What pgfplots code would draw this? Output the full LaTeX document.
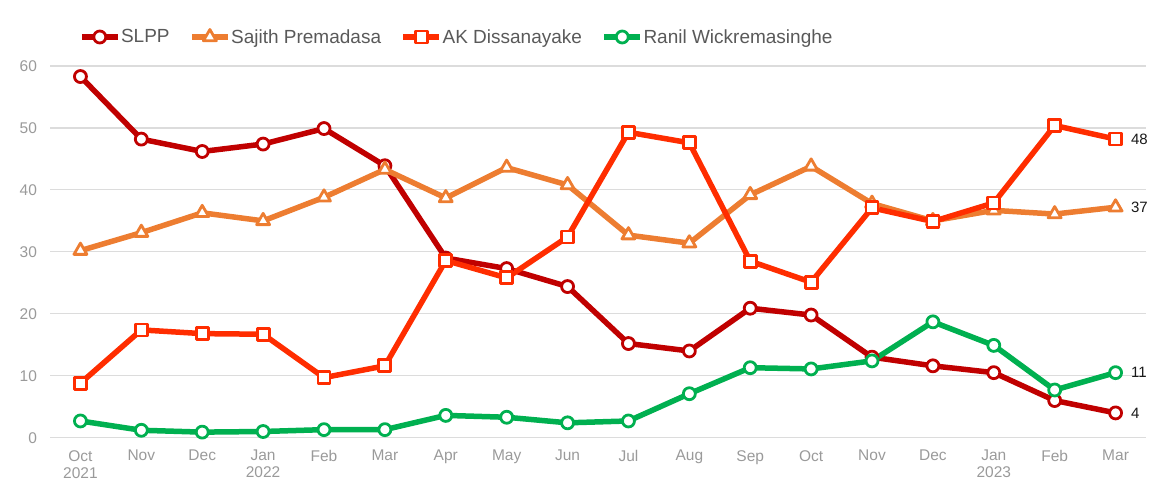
\documentclass[border=0pt]{standalone}
\usepackage{pgfplots}
\pgfplotsset{compat=1.18}
\usepackage{fontspec}
\setmainfont{Liberation Sans}
\definecolor{slpp}{HTML}{C00000}
\definecolor{sajith}{HTML}{ED7D31}
\definecolor{akd}{HTML}{FF2D00}
\definecolor{ranil}{HTML}{00B050}
\definecolor{tickc}{HTML}{9A9A9A}
\definecolor{gridc}{HTML}{DCDCDC}
\definecolor{legtext}{HTML}{595959}
\begin{document}
\begin{tikzpicture}
\path (0pt,0pt) rectangle (1155pt,489pt);
\begin{axis}[
  at={(50pt,51.3pt)}, anchor=south west,
  scale only axis, width=1096pt, height=371.7pt,
  xmin=-0.5, xmax=17.5, ymin=0, ymax=60,
  axis line style={draw=none},
  major tick length=0pt,
  ytick={0,10,...,60},
  ymajorgrids, grid style={gridc, line width=1.2pt},
  xtick={0,...,17},
  xticklabels={{Oct\\2021},Nov,Dec,{Jan\\2022},Feb,Mar,Apr,May,Jun,Jul,Aug,Sep,Oct,Nov,Dec,{Jan\\2023},Feb,Mar},
  xticklabel style={align=center, text=tickc, font=\fontsize{15.5}{17}\selectfont, yshift=-9pt},
  yticklabel style={text=tickc, font=\fontsize{15.5}{17}\selectfont, xshift=-9.5pt},
  /pgf/number format/assume math mode=true,
  clip=false,
  legend columns=4,
  legend style={at={(0.0265,1.078)}, anchor=west, draw=none, fill=none,
    inner sep=0pt, outer sep=0pt, font=\fontsize{19}{21}\selectfont, text=legtext,
    nodes={inner sep=0.5pt},
    /tikz/every even column/.append style={column sep=19pt}},
  legend cell align=left,
  legend image code/.code={\draw[mark repeat=2,mark phase=2,#1] plot coordinates {(0pt,0pt) (18pt,0pt) (36pt,0pt)};},
  every axis plot/.append style={line width=5.5pt, line join=round},
]
\addplot[slpp, mark=*, mark size=6pt, mark options={fill=white, line width=2.8pt}] coordinates {
(0,58.3)(1,48.2)(2,46.2)(3,47.4)(4,49.9)(5,43.9)(6,29.0)(7,27.3)(8,24.4)(9,15.2)(10,14.0)(11,20.9)(12,19.8)(13,13.0)(14,11.6)(15,10.5)(16,6.0)(17,4.0)};
\addlegendentry{SLPP}
\addplot[sajith, mark=triangle*, mark size=7.5pt, mark options={fill=white, line width=2.8pt}] coordinates {
(0,30.2)(1,33.1)(2,36.3)(3,35.0)(4,38.8)(5,43.3)(6,38.7)(7,43.6)(8,40.8)(9,32.7)(10,31.4)(11,39.2)(12,43.8)(13,37.8)(14,35.0)(15,36.7)(16,36.1)(17,37.2)};
\addlegendentry{Sajith Premadasa}
\addplot[akd, mark=square*, mark size=6pt, mark options={fill=white, line width=2.8pt}] coordinates {
(0,8.8)(1,17.4)(2,16.8)(3,16.7)(4,9.7)(5,11.6)(6,28.6)(7,25.8)(8,32.4)(9,49.3)(10,47.6)(11,28.5)(12,25.1)(13,37.1)(14,34.9)(15,37.9)(16,50.4)(17,48.2)};
\addlegendentry{AK Dissanayake}
\addplot[ranil, mark=*, mark size=6pt, mark options={fill=white, line width=2.8pt}] coordinates {
(0,2.7)(1,1.2)(2,0.9)(3,1.0)(4,1.3)(5,1.3)(6,3.6)(7,3.3)(8,2.4)(9,2.7)(10,7.1)(11,11.3)(12,11.1)(13,12.4)(14,18.7)(15,14.9)(16,7.7)(17,10.5)};
\addlegendentry{Ranil Wickremasinghe}
\begin{scope}[every node/.style={anchor=west, xshift=12pt, font=\fontsize{15}{16}\selectfont, text=black!90}]
\node at (axis cs:17,48.2) {48};
\node at (axis cs:17,37.2) {37};
\node at (axis cs:17,10.5) {11};
\node at (axis cs:17,4.0) {4};
\end{scope}
\end{axis}
\end{tikzpicture}
\end{document}
